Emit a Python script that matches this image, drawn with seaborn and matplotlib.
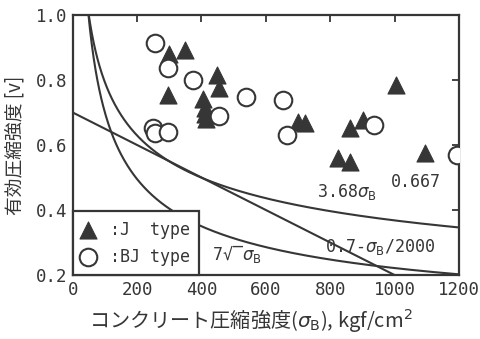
import numpy as np
import pandas as pd
import matplotlib
matplotlib.use("Agg")
import matplotlib.pyplot as plt
from matplotlib.font_manager import FontProperties
import seaborn as sns

# Concrete compressive strength sigma_B (kgf/cm2) and effectiveness factor v
j_fc = [300, 349, 297, 447, 455, 406, 410, 412, 414, 700, 721, 861, 902, 825, 861, 1006, 1094]
j_nu = [0.879, 0.892, 0.754, 0.815, 0.776, 0.740, 0.715, 0.695, 0.680, 0.672, 0.667, 0.651, 0.677,
        0.559, 0.549, 0.785, 0.574]
bj_fc = [256, 297, 375, 540, 454, 250, 255, 297, 654, 666, 936, 1194]
bj_nu = [0.913, 0.836, 0.800, 0.749, 0.690, 0.651, 0.636, 0.641, 0.738, 0.631, 0.662, 0.569]

# Design equations for v
coef_a, expo_a = 3.68, -1.0 / 3.0      # 3.68 * sigma_B^expo
coef_b = 7.0                          # 7 / sqrt(sigma_B)
lin_0, lin_div = 0.7, 2000.0          # 0.7 - sigma_B / 2000

x_ticks = [0, 200, 400, 600, 800, 1000, 1200]
y_ticks = [0.2, 0.4, 0.6, 0.8, 1.0]

sns.set_theme(style="white")
plt.rcParams["font.family"] = ["Noto Sans CJK JP", "DejaVu Sans"]
plt.rcParams["mathtext.fontset"] = "dejavusans"

ink = "#363636"
mono = "DejaVu Sans Mono"

fig = plt.figure(figsize=(4.8, 3.39), dpi=100)
ax = fig.add_axes([0.1515, 0.1888, 0.8045, 0.767])

sig = np.linspace(20, 1200, 600)
sns.lineplot(x=sig, y=coef_a * sig ** expo_a, ax=ax, color=ink, lw=1.5, zorder=2)
sns.lineplot(x=sig, y=coef_b / np.sqrt(sig), ax=ax, color=ink, lw=1.5, zorder=2)
sig_l = np.linspace(0, 1000, 50)
sns.lineplot(x=sig_l, y=lin_0 - sig_l / lin_div, ax=ax, color=ink, lw=1.5, zorder=2)

dj = pd.DataFrame({"fc": j_fc, "nu": j_nu})
dbj = pd.DataFrame({"fc": bj_fc, "nu": bj_nu})
sns.scatterplot(data=dj, x="fc", y="nu", marker="^", s=150, color=ink, edgecolor=ink,
                linewidth=0.8, ax=ax, zorder=3, label=":J  type")
sns.scatterplot(data=dbj, x="fc", y="nu", marker="o", s=160, facecolor="white", edgecolor=ink,
                linewidth=1.5, ax=ax, zorder=3, label=":BJ type")

ax.set_xlim(0, 1200)
ax.set_ylim(0.2, 1.0)
ax.set_xticks(x_ticks)
ax.set_yticks(y_ticks)
ax.set_xticklabels([str(t) for t in x_ticks], fontfamily=mono, fontsize=12.5, color=ink)
ax.set_yticklabels([f"{t:.1f}" for t in y_ticks], fontfamily=mono, fontsize=12.5, color=ink)
ax.tick_params(direction="in", top=True, right=True, length=5, width=1.3, color=ink, pad=4)
for sp in ax.spines.values():
    sp.set_color(ink)
    sp.set_linewidth(1.6)

ax.set_xlabel("コンクリート圧縮強度($\\sigma_\\mathrm{B}$), kgf/cm$^2$", fontsize=14.5, color=ink)
ax.xaxis.set_label_coords(0.462, -0.125)
ax.set_ylabel("有効圧縮強度 [v]", fontsize=13.5, color=ink, labelpad=7)

ax.text(759, 0.44, "3.68$\\sigma_\\mathrm{B}$", fontfamily=mono, fontsize=12, color=ink)
ax.text(990, 0.47, "0.667", fontfamily=mono, fontsize=12, color=ink)
ax.text(784, 0.27, "0.7-$\\sigma_\\mathrm{B}$/2000", fontfamily=mono, fontsize=12, color=ink)
ax.text(432, 0.246, "7√‾$\\sigma_\\mathrm{B}$", fontfamily=mono, fontsize=12, color=ink)

leg = ax.legend(loc="lower left", bbox_to_anchor=(0, 0), borderaxespad=0, frameon=True,
                fancybox=False, framealpha=1, facecolor="white", edgecolor=ink,
                prop=FontProperties(family=mono, size=12), handletextpad=1.0,
                borderpad=0.55, labelspacing=0.55, handlelength=0.7)
leg.get_frame().set_linewidth(1.6)
for t in leg.get_texts():
    t.set_color(ink)

fig.savefig("out.png", dpi=100, facecolor="white")
